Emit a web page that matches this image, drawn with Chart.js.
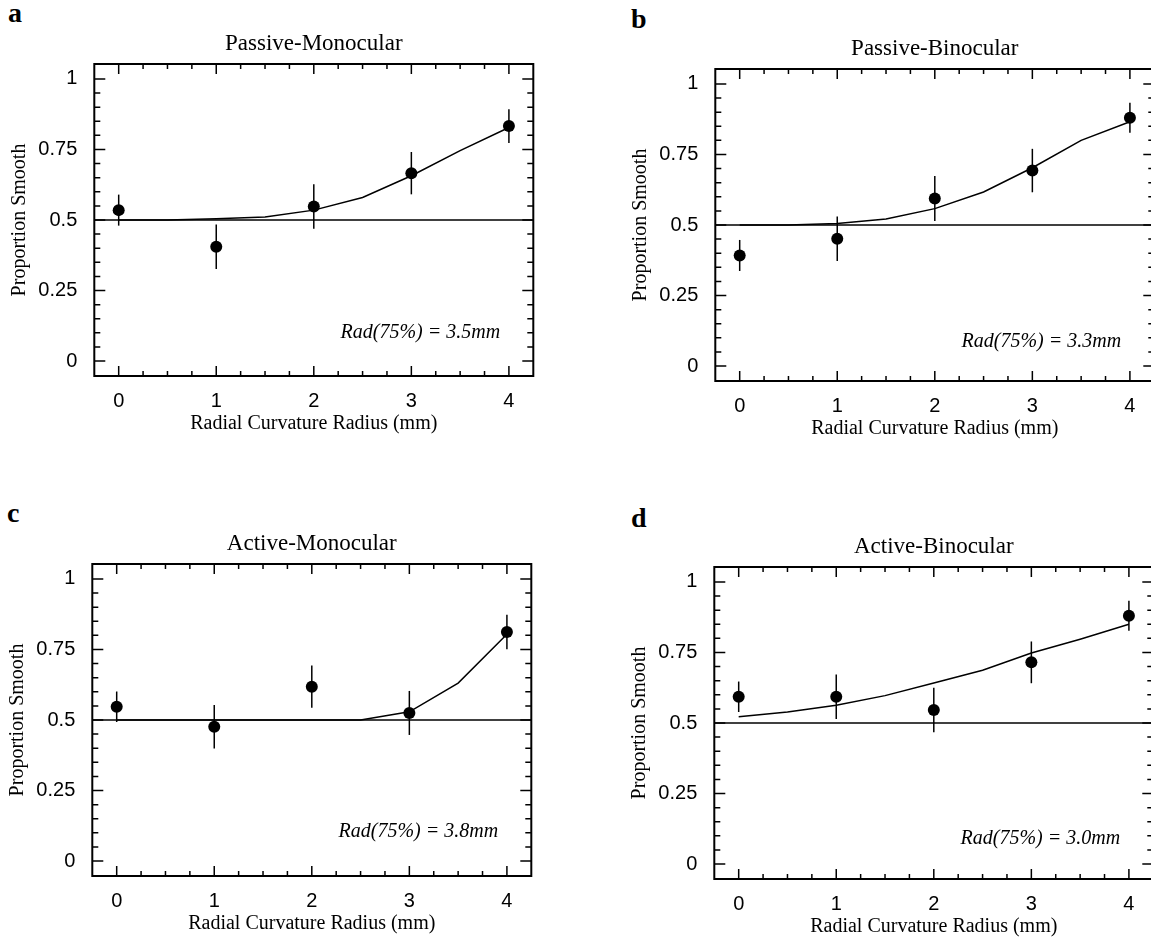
<!DOCTYPE html>
<html>
<head>
<meta charset="utf-8">
<script src="https://cdn.jsdelivr.net/npm/chart.js@4.4.1/dist/chart.umd.min.js"></script>
<style>
  html, body { margin: 0; padding: 0; background: #fff; width: 1151px; height: 940px; overflow: hidden; }
  .panel { position: absolute; width: 575px; height: 470px; }
  .letter { position: absolute; font-family: "Liberation Serif", serif; font-weight: bold; font-size: 28px; line-height: 28px; color: #000; }
</style>
</head>
<body>
<div class="letter" style="left:8px; top:-1px">a</div>
<div class="letter" style="left:631px; top:5px">b</div>
<div class="letter" style="left:7px; top:499px">c</div>
<div class="letter" style="left:631px; top:504px">d</div>

<div class="panel" style="left:0px; top:0px"><canvas id="chartA" width="575" height="470"></canvas></div>
<div class="panel" style="left:621px; top:5px"><canvas id="chartB" width="575" height="470"></canvas></div>
<div class="panel" style="left:-2px; top:500px"><canvas id="chartC" width="575" height="470"></canvas></div>
<div class="panel" style="left:620px; top:503px"><canvas id="chartD" width="575" height="470"></canvas></div>

<script>
// radii tested and the points where the fitted curve was evaluated
const radii = [0, 1, 2, 3, 4];
const fitRadii = [0, 0.5, 1, 1.5, 2, 2.5, 3, 3.5, 4];
const xTicks = [0, 1, 2, 3, 4];
const yTicks = [0, 0.25, 0.5, 0.75, 1];
const chanceLevel = 0.5;

const titles = ["Passive-Monocular", "Passive-Binocular", "Active-Monocular", "Active-Binocular"];
const rad75 = ["3.5", "3.3", "3.8", "3.0"];

const passiveMonoMean = [0.535, 0.405, 0.548, 0.666, 0.833];
const passiveMonoErr  = [0.055, 0.079, 0.079, 0.075, 0.060];
const passiveMonoFit  = [0.5, 0.5, 0.504, 0.511, 0.535, 0.580, 0.657, 0.746, 0.828];

const passiveBinoMean = [0.392, 0.451, 0.594, 0.693, 0.880];
const passiveBinoErr  = [0.055, 0.079, 0.080, 0.077, 0.053];
const passiveBinoFit  = [0.5, 0.5, 0.505, 0.521, 0.558, 0.617, 0.703, 0.800, 0.866];

const activeMonoMean = [0.547, 0.476, 0.618, 0.525, 0.812];
const activeMonoErr  = [0.054, 0.077, 0.075, 0.078, 0.061];
const activeMonoFit  = [0.5, 0.5, 0.5, 0.5, 0.5, 0.5, 0.529, 0.631, 0.804];

const activeBinoMean = [0.593, 0.593, 0.546, 0.715, 0.880];
const activeBinoErr  = [0.054, 0.079, 0.079, 0.074, 0.053];
const activeBinoFit  = [0.522, 0.539, 0.563, 0.597, 0.642, 0.687, 0.748, 0.797, 0.850];

const SERIF = "'Liberation Serif', 'Times New Roman', serif";
const SANS = "'Liberation Sans', Arial, sans-serif";

Chart.defaults.color = "#000";

// frame, inward ticks, chance line, error bars and the Rad(75%) note
const framePlugin = {
    id: "frame",
    beforeDatasetsDraw(chart) {
        const { ctx, chartArea: a, scales: { x, y } } = chart;
        ctx.save();
        ctx.strokeStyle = "#000";
        ctx.lineWidth = 1.5;

        const yc = y.getPixelForValue(chanceLevel);
        ctx.beginPath();
        ctx.moveTo(a.left, yc);
        ctx.lineTo(a.right, yc);
        ctx.stroke();

        ctx.beginPath();
        for (let i = 0; i <= 16; i++) {
            const px = x.getPixelForValue(i * 0.25);
            const len = i % 4 === 0 ? 10 : 5;
            ctx.moveTo(px, a.top); ctx.lineTo(px, a.top + len);
            ctx.moveTo(px, a.bottom); ctx.lineTo(px, a.bottom - len);
        }
        for (let i = 0; i <= 20; i++) {
            const py = y.getPixelForValue(i * 0.05);
            const len = i % 5 === 0 ? 11 : 6;
            ctx.moveTo(a.left, py); ctx.lineTo(a.left + len, py);
            ctx.moveTo(a.right, py); ctx.lineTo(a.right - len, py);
        }
        ctx.stroke();

        ctx.lineWidth = 2;
        ctx.strokeRect(a.left, a.top, a.right - a.left, a.bottom - a.top);
        ctx.restore();
    },
    afterDatasetsDraw(chart, args, opts) {
        const { ctx, scales: { x, y } } = chart;
        ctx.save();
        ctx.strokeStyle = "#000";
        ctx.lineWidth = 1.5;
        chart.data.datasets.forEach(ds => {
            if (!ds.errors) return;
            ds.data.forEach((p, i) => {
                const px = x.getPixelForValue(p.x);
                ctx.beginPath();
                ctx.moveTo(px, y.getPixelForValue(p.y - ds.errors[i]));
                ctx.lineTo(px, y.getPixelForValue(p.y + ds.errors[i]));
                ctx.stroke();
            });
        });
        ctx.fillStyle = "#000";
        ctx.font = "italic 20px " + SERIF;
        ctx.textAlign = "right";
        ctx.textBaseline = "middle";
        ctx.fillText(opts.text, x.getPixelForValue(opts.x), y.getPixelForValue(opts.y));
        ctx.restore();
    }
};

function makePanel(id, title, means, errors, fit, rad, noteY) {
    new Chart(document.getElementById(id), {
        type: "scatter",
        data: {
            datasets: [{
                data: radii.map((r, i) => ({ x: r, y: means[i] })),
                errors: errors,
                backgroundColor: "#000",
                pointRadius: 6,
                pointBorderWidth: 0
            }, {
                data: fitRadii.map((r, i) => ({ x: r, y: fit[i] })),
                showLine: true,
                borderColor: "#000",
                borderWidth: 1.5,
                pointRadius: 0
            }]
        },
        options: {
            responsive: false,
            animation: false,
            devicePixelRatio: 1,
            layout: { padding: { left: 0, top: 0, right: 41.7, bottom: 0 } },
            plugins: {
                legend: { display: false },
                tooltip: { enabled: false },
                title: {
                    display: true,
                    text: title,
                    fullSize: false,
                    color: "#000",
                    font: { family: SERIF, size: 23, weight: "normal" },
                    padding: { top: 29.7, bottom: 6.7 }
                },
                frame: { text: "Rad(75%) = " + rad + "mm", x: 3.91, y: noteY }
            },
            scales: {
                x: {
                    type: "linear",
                    min: -0.25,
                    max: 4.25,
                    afterBuildTicks: s => { s.ticks = xTicks.map(v => ({ value: v })); },
                    afterFit: s => { s.height = 94; },
                    grid: { display: false },
                    border: { display: false },
                    ticks: { padding: 5, color: "#000", font: { family: SANS, size: 20 }, callback: v => String(v) },
                    title: {
                        display: true,
                        text: "Radial Curvature Radius (mm)",
                        color: "#000",
                        font: { family: SERIF, size: 20 },
                        padding: { top: 0, bottom: 34 }
                    }
                },
                y: {
                    type: "linear",
                    min: -0.053,
                    max: 1.053,
                    afterBuildTicks: s => { s.ticks = yTicks.map(v => ({ value: v })); },
                    afterFit: s => { s.width = 94.3; },
                    grid: { display: false },
                    border: { display: false },
                    ticks: { padding: 9, color: "#000", font: { family: SANS, size: 20 }, callback: v => String(v) },
                    title: {
                        display: true,
                        text: "Proportion Smooth",
                        color: "#000",
                        font: { family: SERIF, size: 20 },
                        padding: { top: 7.5, bottom: 0 }
                    }
                }
            }
        },
        plugins: [framePlugin]
    });
}

makePanel("chartA", titles[0], passiveMonoMean, passiveMonoErr, passiveMonoFit, rad75[0], 0.10);
makePanel("chartB", titles[1], passiveBinoMean, passiveBinoErr, passiveBinoFit, rad75[1], 0.085);
makePanel("chartC", titles[2], activeMonoMean, activeMonoErr, activeMonoFit, rad75[2], 0.103);
makePanel("chartD", titles[3], activeBinoMean, activeBinoErr, activeBinoFit, rad75[3], 0.09);
</script>
</body>
</html>
